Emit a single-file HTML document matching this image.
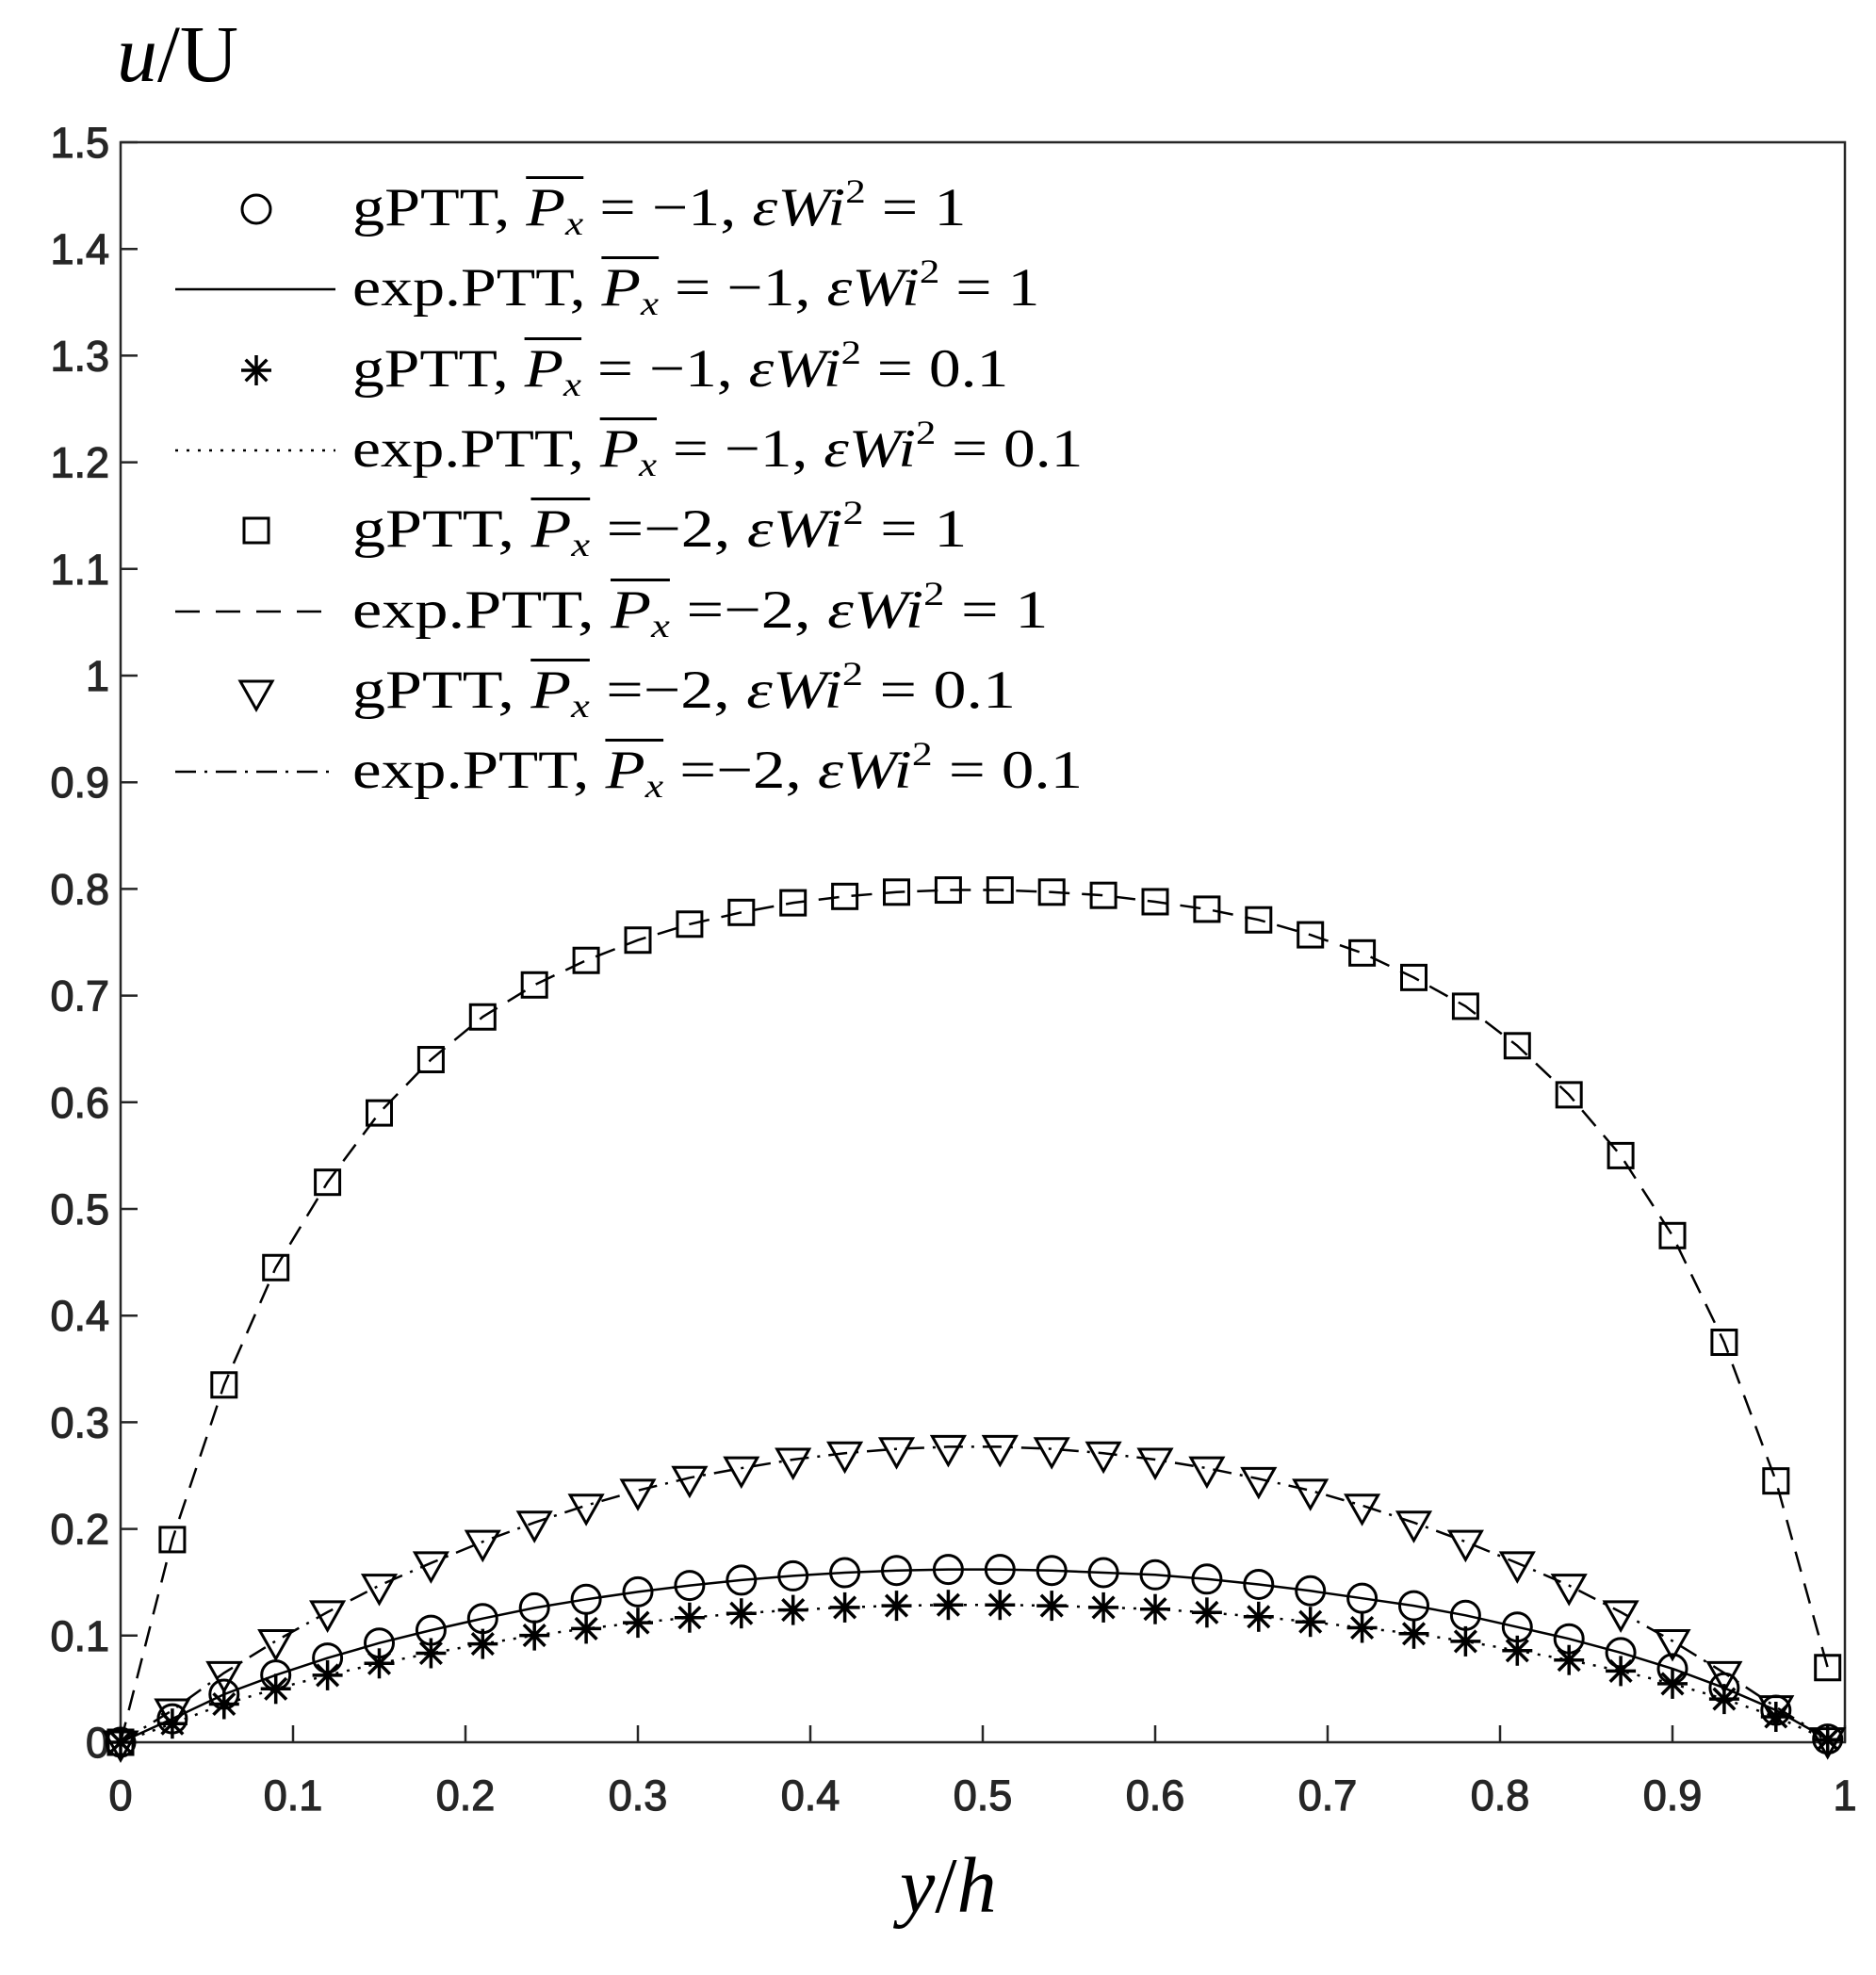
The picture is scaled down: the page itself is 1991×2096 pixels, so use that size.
<!DOCTYPE html>
<html><head><meta charset="utf-8"><style>
html,body{margin:0;padding:0;background:#fff;}
body{width:1991px;height:2096px;position:relative;overflow:hidden;}
.lg{position:absolute;left:374px;font-family:"Liberation Serif",serif;font-size:57px;white-space:nowrap;color:#000;line-height:1;transform-origin:0 50%;}
.lg i{font-style:italic;}
.ov{display:inline-block;border-top:3px solid #000;padding-top:2px;line-height:1;}
sub{font-size:36px;font-style:italic;vertical-align:-10px;line-height:0;}
sup{font-size:36px;vertical-align:24px;line-height:0;}
</style></head><body>
<svg id="s" width="1991" height="2096" style="position:absolute;left:0;top:0" xmlns="http://www.w3.org/2000/svg"></svg>
<div class="lg" data-w="1026">gPTT, <span class="ov"><i>P</i><sub>x</sub></span> = −1, <i>εWi</i><sup>2</sup> = 1</div>
<div class="lg" data-w="1104">exp.PTT, <span class="ov"><i>P</i><sub>x</sub></span> = −1, <i>εWi</i><sup>2</sup> = 1</div>
<div class="lg" data-w="1070">gPTT, <span class="ov"><i>P</i><sub>x</sub></span> = −1, <i>εWi</i><sup>2</sup> = 0.1</div>
<div class="lg" data-w="1149">exp.PTT, <span class="ov"><i>P</i><sub>x</sub></span> = −1, <i>εWi</i><sup>2</sup> = 0.1</div>
<div class="lg" data-w="1026">gPTT, <span class="ov"><i>P</i><sub>x</sub></span> =−2, <i>εWi</i><sup>2</sup> = 1</div>
<div class="lg" data-w="1112">exp.PTT, <span class="ov"><i>P</i><sub>x</sub></span> =−2, <i>εWi</i><sup>2</sup> = 1</div>
<div class="lg" data-w="1078">gPTT, <span class="ov"><i>P</i><sub>x</sub></span> =−2, <i>εWi</i><sup>2</sup> = 0.1</div>
<div class="lg" data-w="1149">exp.PTT, <span class="ov"><i>P</i><sub>x</sub></span> =−2, <i>εWi</i><sup>2</sup> = 0.1</div>
<div style="position:absolute;left:124px;top:14px;font-family:'Liberation Serif',serif;font-size:86px;line-height:1"><i>u</i>/U</div>
<div style="position:absolute;left:955px;top:1960px;font-family:'Liberation Serif',serif;font-size:84px;line-height:1"><i>y</i>/<i>h</i></div>
<script>
var s=document.getElementById('s'),NS='http://www.w3.org/2000/svg';
function el(t,a){var e=document.createElementNS(NS,t);for(var k in a)e.setAttribute(k,a[k]);s.appendChild(e);return e;}
var L=128,R=1958,T=151,B=1849;
function X(v){return L+(R-L)*v;}function Y(v){return B-(B-T)*v/1.5;}
el('rect',{x:L,y:T,width:R-L,height:B-T,fill:'none',stroke:'#262626','stroke-width':2.5});
var tf={'font-family':'Liberation Sans, sans-serif','font-size':45,fill:'#262626',stroke:'#262626','stroke-width':1.2};
function tx(x,y,anc,str){var a={x:x,y:y,'text-anchor':anc};for(var k in tf)a[k]=tf[k];var t=el('text',a);t.textContent=str;}
for(var i=0;i<=10;i++){var x=X(i/10);el('line',{x1:x,y1:B,x2:x,y2:B-18,stroke:'#262626','stroke-width':2.5});
tx(x,B+72,'middle',i==0?'0':i==10?'1':'0.'+i);}
for(var i=0;i<=15;i++){var y=Y(i/10);el('line',{x1:L,y1:y,x2:L+18,y2:y,stroke:'#262626','stroke-width':2.5});
tx(L-12,y+16,'end',i==0?'0':i==10?'1':(i>10?'1.'+(i-10):'0.'+i));}
var sq=[0,.19,.335,.445,.525,.59,.64,.68,.71,.733,.752,.767,.778,.787,.793,.797,.799,.799,.797,.794,.788,.781,.771,.757,.74,.717,.69,.653,.607,.55,.475,.375,.245,.07];
var tr=[0,.03,.065,.095,.122,.147,.168,.188,.206,.222,.236,.248,.257,.265,.271,.275,.277,.277,.275,.271,.265,.257,.247,.236,.222,.206,.188,.168,.147,.122,.095,.065,.033,.003];
var ci=[0,.022,.045,.063,.079,.093,.105,.116,.126,.134,.141,.147,.152,.156,.159,.161,.162,.162,.161,.159,.157,.153,.148,.142,.135,.128,.119,.108,.097,.084,.069,.051,.03,.003];
var st=ci.map(function(v){return v*0.795;});
function series(d,dash,mk){var p='';for(var i=0;i<d.length;i++){p+=(i?'L':'M')+X(i*0.03).toFixed(1)+' '+Y(d[i]).toFixed(1);}
el('path',{d:p,fill:'none',stroke:'#000','stroke-width':2.5,'stroke-dasharray':dash});
for(var i=0;i<d.length;i++)mk(X(i*0.03),Y(d[i]));}
function circ(x,y){el('circle',{cx:x,cy:y,r:15,fill:'none',stroke:'#000','stroke-width':3});}
function star(x,y){var r=16;for(var a=0;a<4;a++){var an=a*Math.PI/4;el('line',{x1:x-r*Math.cos(an),y1:y-r*Math.sin(an),x2:x+r*Math.cos(an),y2:y+r*Math.sin(an),stroke:'#000','stroke-width':3.5});}}
function squ(x,y){el('rect',{x:x-13,y:y-13,width:26,height:26,fill:'none',stroke:'#000','stroke-width':3});}
function tri(x,y){el('path',{d:'M'+(x-17)+' '+(y-11)+'L'+(x+17)+' '+(y-11)+'L'+x+' '+(y+19)+'Z',fill:'none',stroke:'#000','stroke-width':3});}
series(sq,'22 13',squ);series(tr,'20 9 3 9',tri);series(ci,'',circ);series(st,'3 9',star);
var ly=[222,307,393,478,563,649,734,819];
circ(272,ly[0]);el('line',{x1:186,y1:ly[1],x2:356,y2:ly[1],stroke:'#000','stroke-width':2.5});
star(272,ly[2]);el('line',{x1:186,y1:ly[3],x2:356,y2:ly[3],stroke:'#000','stroke-width':2.5,'stroke-dasharray':'3 9'});
squ(272,ly[4]);el('line',{x1:186,y1:ly[5],x2:356,y2:ly[5],stroke:'#000','stroke-width':2.5,'stroke-dasharray':'26 17'});
tri(272,ly[6]);el('line',{x1:186,y1:ly[7],x2:356,y2:ly[7],stroke:'#000','stroke-width':2.5,'stroke-dasharray':'22 9 3 9'});
var lg=document.querySelectorAll('.lg');
for(var i=0;i<lg.length;i++){var d=lg[i];var h=d.offsetHeight;d.style.top=(ly[i]-h/2-4)+'px';
var w=d.offsetWidth;var tw=+d.getAttribute('data-w')-374;d.style.transform='scaleX('+(tw/w)+')';}
</script>
</body></html>
